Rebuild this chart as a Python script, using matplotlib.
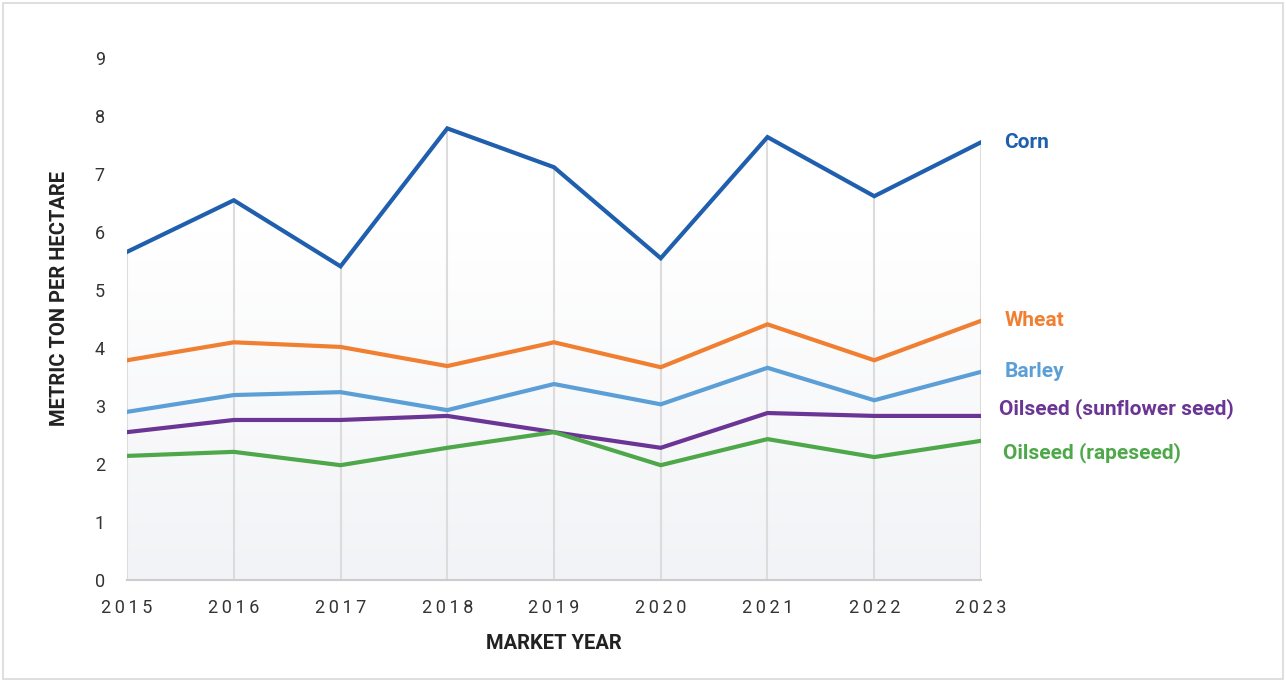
import numpy as np
import matplotlib.pyplot as plt
from matplotlib.patches import Rectangle, Polygon
from matplotlib.colors import LinearSegmentedColormap

years = [2015, 2016, 2017, 2018, 2019, 2020, 2021, 2022, 2023]
corn = [5.66, 6.55, 5.41, 7.79, 7.12, 5.55, 7.64, 6.62, 7.55]
wheat = [3.79, 4.10, 4.02, 3.69, 4.10, 3.67, 4.41, 3.79, 4.47]
barley = [2.90, 3.19, 3.24, 2.93, 3.38, 3.03, 3.66, 3.10, 3.59]
sunflower = [2.55, 2.76, 2.76, 2.83, 2.55, 2.28, 2.88, 2.83, 2.83]
rapeseed = [2.14, 2.21, 1.98, 2.28, 2.55, 1.98, 2.43, 2.12, 2.40]

names = ["Corn", "Wheat", "Barley", "Oilseed (sunflower seed)", "Oilseed (rapeseed)"]
series = [corn, wheat, barley, sunflower, rapeseed]
colors = ["#1f5fad", "#f07f31", "#5b9fd6", "#6a3594", "#4ea84a"]

plt.rcParams['font.family'] = ['Roboto', 'DejaVu Sans']

fig = plt.figure(figsize=(12.86, 6.82), dpi=100)
fig.patches.append(Rectangle((0.002, 0.004), 0.996, 0.992, transform=fig.transFigure,
                             fill=False, edgecolor='#d9d9d9', lw=1.2))
ax = fig.add_axes([0.0988, 0.1496, 0.664, 0.765])

# gradient under the corn line
grad = np.linspace(0, 1, 256).reshape(-1, 1)
cmap = LinearSegmentedColormap.from_list('g', ['#f2f3f6', '#ffffff'])
img = ax.imshow(grad, cmap=cmap, extent=[years[0], years[-1], 0, 6], aspect='auto',
                origin='lower', zorder=0)
poly = Polygon(list(zip(years, corn)) + [(years[-1], 0), (years[0], 0)], closed=True,
               transform=ax.transData, facecolor='none', edgecolor='none')
ax.add_patch(poly)
img.set_clip_path(poly)

ax.vlines(years, 0, corn, color='#dcdcdc', lw=1.5, zorder=1)

for vals, c in zip(series, colors):
    ax.plot(years, vals, color=c, lw=3, zorder=3, solid_joinstyle='miter')

label_y = [7.55, 4.47, 3.59, 2.95, 2.20]
label_dx = [0.22, 0.22, 0.22, 0.17, 0.21]
for name, c, ly, dx in zip(names, colors, label_y, label_dx):
    ax.text(years[-1] + dx, ly, name, color=c, fontsize=15, fontweight='bold',
            va='center', ha='left', clip_on=False)

ax.set_xlim(years[0], years[-1])
ax.set_ylim(0, 9)
ax.set_xticks(years)
ax.set_xticklabels(["\u2009".join(str(y)) for y in years])
ax.set_yticks(range(10))
ax.tick_params(axis='both', length=0, labelsize=13, labelcolor='#333333')
ax.tick_params(axis='y', pad=16)
ax.tick_params(axis='x', pad=14)
for s in ['top', 'right', 'left']:
    ax.spines[s].set_visible(False)
ax.spines['bottom'].set_color('#cccccc')
ax.spines['bottom'].set_linewidth(1.5)
ax.set_facecolor('none')

ax.set_ylabel("METRIC TON PER HECTARE", fontsize=14.5, fontweight='bold', color='#222222')
ax.yaxis.set_label_coords(-0.068, 0.54)
ax.set_xlabel("MARKET YEAR", fontsize=14.5, fontweight='bold', color='#222222', labelpad=12)

fig.savefig("out.png", dpi=100)
